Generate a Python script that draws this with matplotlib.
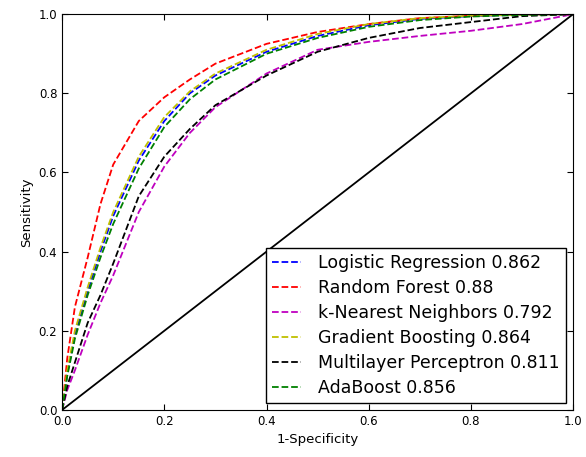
import numpy as np
import matplotlib
matplotlib.use("Agg")
import matplotlib.pyplot as plt

# ROC points (shared FPR grid)
fpr = [0, 0.01, 0.025, 0.05, 0.075, 0.1, 0.15, 0.2, 0.25, 0.3, 0.4, 0.5, 0.6, 0.7, 0.8, 0.9, 1.0]

tpr_lr  = [0, 0.09, 0.19, 0.30, 0.40, 0.49, 0.63, 0.73, 0.80, 0.845, 0.905, 0.945, 0.972, 0.988, 0.995, 0.999, 1.0]
tpr_rf  = [0, 0.13, 0.26, 0.385, 0.52, 0.62, 0.73, 0.79, 0.835, 0.875, 0.925, 0.955, 0.975, 0.99, 0.996, 0.999, 1.0]
tpr_knn = [0, 0.05, 0.10, 0.19, 0.27, 0.34, 0.50, 0.615, 0.70, 0.765, 0.85, 0.91, 0.93, 0.945, 0.958, 0.975, 1.0]
tpr_gb  = [0, 0.10, 0.20, 0.31, 0.41, 0.50, 0.64, 0.74, 0.805, 0.85, 0.91, 0.95, 0.975, 0.99, 0.996, 0.999, 1.0]
tpr_mlp = [0, 0.06, 0.12, 0.22, 0.29, 0.37, 0.54, 0.64, 0.71, 0.77, 0.845, 0.905, 0.94, 0.965, 0.98, 0.995, 1.0]
tpr_ada = [0, 0.085, 0.18, 0.29, 0.385, 0.47, 0.61, 0.715, 0.785, 0.835, 0.90, 0.94, 0.968, 0.985, 0.994, 0.998, 1.0]

names = ["Logistic Regression", "Random Forest", "k-Nearest Neighbors",
         "Gradient Boosting", "Multilayer Perceptron", "AdaBoost"]
aucs = ["0.862", "0.88", "0.792", "0.864", "0.811", "0.856"]
curves = [tpr_lr, tpr_rf, tpr_knn, tpr_gb, tpr_mlp, tpr_ada]
colors = ["b", "r", "m", "y", "k", "g"]

fig = plt.figure(figsize=(5.86, 4.57), dpi=100)
ax = fig.add_axes([0.106, 0.103, 0.872, 0.866])

for name, auc, tpr, c in zip(names, aucs, curves, colors):
    ax.plot(fpr, tpr, "--", color=c, lw=1.3, label="{} {}".format(name, auc))

ax.plot([0, 1], [0, 1], color="k", lw=1.3)

ax.set_xlim(0, 1)
ax.set_ylim(0, 1)
ax.set_xlabel("1-Specificity", fontsize=9.5)
ax.set_ylabel("Sensitivity", fontsize=9.5)
ax.tick_params(direction="in", top=True, right=True, labelsize=8.5, length=4)
ax.set_xticks(np.arange(0, 1.01, 0.2))
ax.set_yticks(np.arange(0, 1.01, 0.2))

leg = ax.legend(loc="lower right", fontsize=12.5, fancybox=False, handlelength=1.7,
                handletextpad=1.0, labelspacing=0.4, borderpad=0.35,
                borderaxespad=0.4, framealpha=1)
leg.get_frame().set_edgecolor("k")

fig.savefig("out.png", dpi=100)
